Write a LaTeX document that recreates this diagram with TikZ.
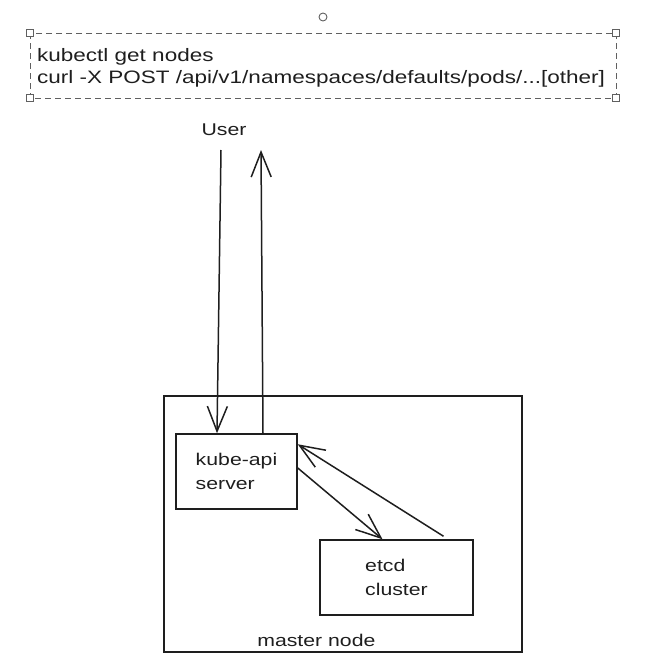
\documentclass[tikz,border=0pt]{standalone}
\usepackage{fontspec}
\setmainfont{Liberation Sans}[FakeStretch=1.25]
\usepackage{tikz}
\usetikzlibrary{arrows.meta,positioning}
\definecolor{ink}{HTML}{1E1E1E}
\definecolor{selgray}{HTML}{606060}
\tikzset{
  sketch/.style={draw=ink, line width=1.5pt},
  compbox/.style={sketch, minimum width=#1, minimum height=75pt, inner sep=0pt, align=left, font=\fontsize{17}{24}\selectfont},
  arr/.style={sketch, -{Straight Barb[length=25pt,width=20pt]}},
  grip/.style={draw=selgray, line width=0.9pt, fill=white, minimum size=7pt, inner sep=0pt}
}

\begin{document}
\begin{tikzpicture}[x=1pt,y=-1pt,every node/.style={text=ink}]
\useasboundingbox (0,0) rectangle (670,672);
\node[draw=selgray, line width=0.9pt, circle, minimum size=8pt, inner sep=0pt] (rot) at (323,17) {};
\draw[selgray, line width=1pt, dash pattern=on 6pt off 4pt] (30,33) rectangle (616,98);
\foreach \gx/\gy in {30/33,616/33,30/98,616/98} \node[grip] at (\gx,\gy) {};
\node[anchor=north west, inner sep=0pt, align=left, font=\fontsize{18}{22}\selectfont] (cmd) at (37,48) {kubectl get nodes\\curl -X POST /api/v1/namespaces/defaults/pods/...[other]};

\node[font=\fontsize{17}{20}\selectfont] (user) at (224,130) {User};
\coordinate (down) at (221,150); \coordinate (up) at (261,150);
\node[sketch, minimum width=358pt, minimum height=256pt] (master) at (343,524) {};
\node[font=\fontsize{17}{20}\selectfont, above left=3pt and -36pt of master.south] (mlabel) {master node};
\node[compbox=121pt] (api) at (236.5,471.5) {kube-api\\server}; \node[compbox=153pt, below right=29.5pt and 21.5pt of api] (etcd) {etcd\\cluster};

\draw[arr] (down) -- ([xshift=-19.5pt]api.north);
\draw[arr] ([xshift=26.5pt]api.north) -- (up);
\draw[arr] ([yshift=3.5pt]api.east) -- ([xshift=-14pt]etcd.north);
\draw[arr] ([xshift=47pt,yshift=3pt]etcd.north) -- ([yshift=-11pt]api.north east);
\end{tikzpicture}
\end{document}
